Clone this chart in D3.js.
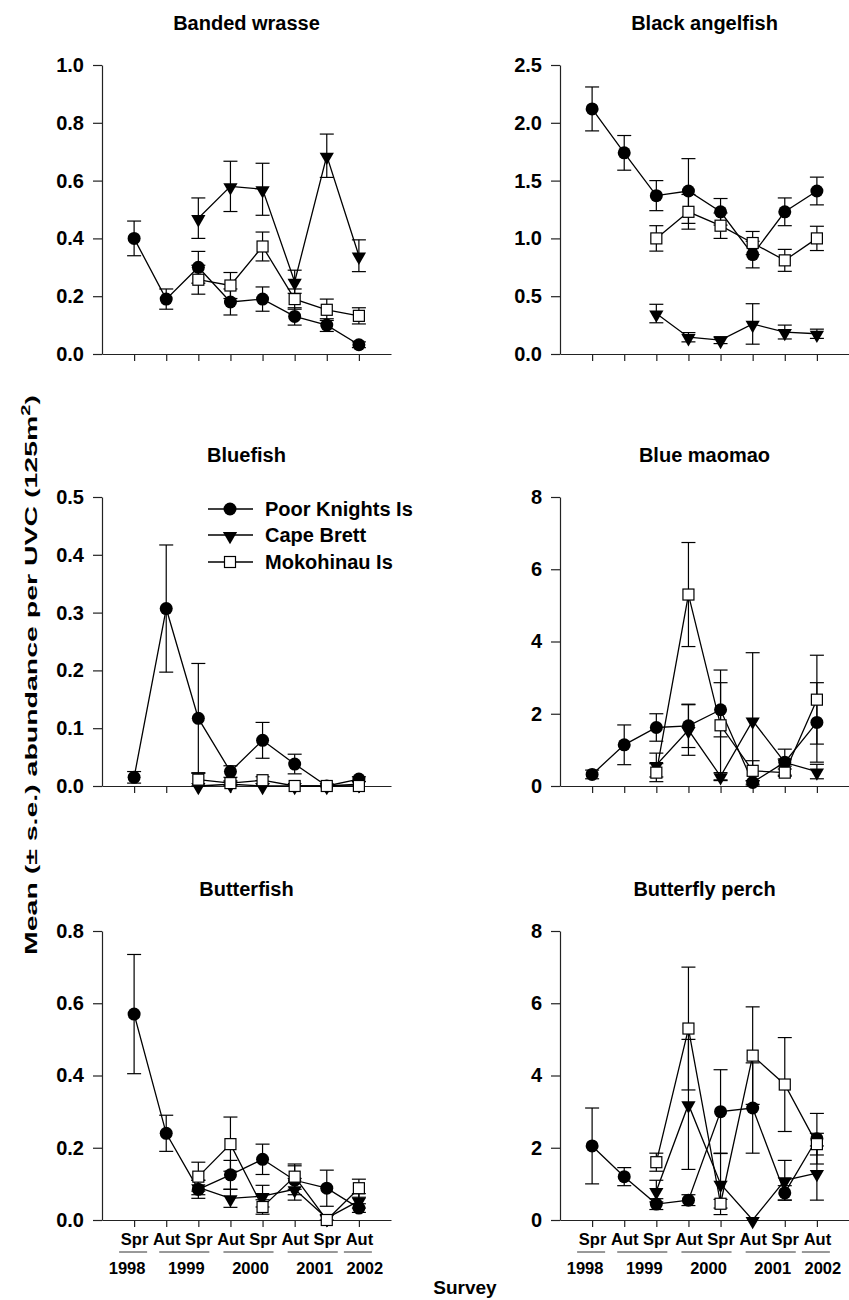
<!DOCTYPE html>
<html><head><meta charset="utf-8">
<script src="https://cdn.jsdelivr.net/npm/d3@7"></script>
<style>
body{margin:0;background:#fff;}
svg{display:block;font-family:"Liberation Sans",Arial,Helvetica,sans-serif;font-weight:bold;}
</style></head><body>
<svg id="chart" width="849" height="1300"></svg>
<script>
// ---- data ----
const surveys = ["Spr","Aut","Spr","Aut","Spr","Aut","Spr","Aut"];
const yearLabels = ["1998","1999","2000","2001","2002"];
const yearFirst = [0,1,3,5,7];
const yearLast  = [0,2,4,6,7];
const seriesNames = ["Poor Knights Is","Cape Brett","Mokohinau Is"];
const panelTitles = ["Banded wrasse","Black angelfish","Bluefish","Blue maomao","Butterfish","Butterfly perch"];
const yMaxes = [1.0, 2.5, 0.5, 8, 0.8, 8];
const yStep  = [0.2, 0.5, 0.1, 2, 0.2, 2];

const bandedPK   = [0.40,0.19,0.30,0.18,0.19,0.13,0.10,0.032];
const bandedPKse = [0.06,0.035,0.055,0.045,0.042,0.03,0.022,0.01];
const bandedCB   = [null,null,0.47,0.58,0.57,0.25,0.686,0.34];
const bandedCBse = [null,null,0.07,0.087,0.09,0.04,0.075,0.055];
const bandedMK   = [null,null,0.257,0.237,0.372,0.19,0.153,0.132];
const bandedMKse = [null,null,0.05,0.045,0.05,0.035,0.037,0.028];

const angelPK   = [2.12,1.74,1.37,1.41,1.23,0.86,1.23,1.41];
const angelPKse = [0.19,0.15,0.13,0.28,0.115,0.115,0.12,0.12];
const angelCB   = [null,null,0.35,0.145,0.12,0.26,0.19,0.175];
const angelCBse = [null,null,0.08,0.04,0.03,0.175,0.06,0.04];
const angelMK   = [null,null,1.0,1.23,1.11,0.96,0.81,1.0];
const angelMKse = [null,null,0.11,0.15,0.11,0.1,0.095,0.105];

const bluefishPK   = [0.015,0.307,0.117,0.025,0.079,0.038,0.0,0.012];
const bluefishPKse = [0.01,0.11,0.095,0.01,0.031,0.017,0,0.004];
const bluefishCB   = [null,null,0,0.003,0,0,0,0.003];
const bluefishCBse = [null,null,0,0,0,0,0,0];
const bluefishMK   = [null,null,0.011,0.005,0.01,0,0,0];
const bluefishMKse = [null,null,0.012,0.004,0.006,0,0,0];

const maomaoPK   = [0.32,1.14,1.62,1.665,2.11,0.1,0.66,1.76];
const maomaoPKse = [0.12,0.55,0.38,0.6,0.75,0.05,0.36,1.1];
const maomaoCB   = [null,null,0.58,1.55,0.27,1.81,0.65,0.4];
const maomaoCBse = [null,null,0.33,0.7,0.1,1.88,0.1,0.2];
const maomaoMK   = [null,null,0.37,5.3,1.68,0.42,0.37,2.39];
const maomaoMKse = [null,null,0.25,1.44,1.53,0.28,0.1,1.23];

const butterPK   = [0.57,0.24,0.085,0.125,0.168,0.11,0.088,0.033];
const butterPKse = [0.165,0.05,0.025,0.04,0.042,0.04,0.05,0.012];
const butterCB   = [null,null,0.09,0.06,0.066,0.085,0.005,0.053];
const butterCBse = [null,null,0.02,0.025,0.03,0.03,0.01,0.02];
const butterMK   = [null,null,0.12,0.21,0.036,0.12,0.0,0.088];
const butterMKse = [null,null,0.04,0.075,0.02,0.035,0,0.025];

const perchPK   = [2.05,1.2,0.44,0.55,3.0,3.1,0.75,2.25];
const perchPKse = [1.05,0.25,0.15,0.15,1.16,1.25,0.2,0.7];
const perchCB   = [null,null,0.8,3.2,1.0,0.0,1.1,1.3];
const perchCBse = [null,null,0.3,1.8,0.85,0,0.55,0.75];
const perchMK   = [null,null,1.6,5.3,0.45,4.55,3.75,2.1];
const perchMKse = [null,null,0.25,1.7,0.12,1.35,1.3,0.3];

// ---- assemble ----
const panelSeries = [
  [[bandedPK,bandedPKse],[bandedCB,bandedCBse],[bandedMK,bandedMKse]],
  [[angelPK,angelPKse],[angelCB,angelCBse],[angelMK,angelMKse]],
  [[bluefishPK,bluefishPKse],[bluefishCB,bluefishCBse],[bluefishMK,bluefishMKse]],
  [[maomaoPK,maomaoPKse],[maomaoCB,maomaoCBse],[maomaoMK,maomaoMKse]],
  [[butterPK,butterPKse],[butterCB,butterCBse],[butterMK,butterMKse]],
  [[perchPK,perchPKse],[perchCB,perchCBse],[perchMK,perchMKse]]
];

// ---- layout ----
const colX = [[102,391],[560,849]];
const rowTop = [65,497,931];
const plotH = 289;
const svg = d3.select("#chart");
const ink = "#000";
const fam = "'Liberation Sans',Arial,sans-serif";

const triPath = d3.symbol().type(d3.symbolTriangle).size(88)();
const capHalf = 7;

function drawMarker(g, k, x, y){
  if(k===0){
    g.append("circle").attr("cx",x).attr("cy",y).attr("r",6.5).attr("fill",ink);
  } else if(k===1){
    g.append("path").attr("d",triPath).attr("transform",`translate(${x},${y+1}) rotate(180)`).attr("fill",ink);
  } else {
    g.append("rect").attr("x",x-5.5).attr("y",y-5.5).attr("width",11).attr("height",11)
      .attr("fill","#fff").attr("stroke",ink).attr("stroke-width",1.2);
  }
}

panelTitles.forEach((title,p)=>{
  const col = p%2, row = Math.floor(p/2);
  const x = d3.scaleLinear().domain([-1,8]).range(colX[col]);
  const y = d3.scaleLinear().domain([0,yMaxes[p]]).range([rowTop[row]+plotH,rowTop[row]]);
  const g = svg.append("g");

  // title
  g.append("text").attr("x",(colX[col][0]+colX[col][1])/2).attr("y",rowTop[row]-35)
    .attr("text-anchor","middle").attr("font-size",20).text(title);

  // y axis
  const ticks = d3.range(0, yMaxes[p]+yStep[p]/2, yStep[p]);
  const fmt = yStep[p] >= 1 ? d3.format("d") : d3.format(".1f");
  const ya = g.append("g").attr("transform",`translate(${colX[col][0]},0)`)
    .call(d3.axisLeft(y).tickValues(ticks).tickFormat(fmt).tickSize(9).tickPadding(9).tickSizeOuter(0));
  ya.selectAll("text").attr("font-size",20).attr("font-weight","bold").attr("fill",ink).attr("font-family",fam);

  // x axis
  const xa = g.append("g").attr("transform",`translate(0,${rowTop[row]+plotH})`)
    .call(d3.axisBottom(x).tickValues(d3.range(surveys.length)).tickSize(7).tickSizeOuter(0)
      .tickFormat(row===2 ? (i=>surveys[i]) : ()=>""));
  xa.selectAll("text").attr("font-size",16.5).attr("font-weight","bold").attr("fill",ink)
    .attr("font-family",fam).attr("dy","0.9em");
  [ya,xa].forEach(a=>{
    a.selectAll("path,line").attr("stroke","#222").attr("stroke-width",1.2);
  });

  if(row===2){
    const base = rowTop[row]+plotH;
    yearLabels.forEach((yl,i)=>{
      const a = yearFirst[i], b = yearLast[i];
      const x0 = a===b ? x(a)-15 : x(a)-7;
      const x1 = a===b ? x(b)+13 : x(b)+11;
      g.append("line").attr("x1",x0).attr("x2",x1).attr("y1",base+32).attr("y2",base+32)
        .attr("stroke","#333").attr("stroke-width",1);
      g.append("text").attr("x",(x0+x1)/2 + (a===b ? (a===0?-6:7) : 2)).attr("y",base+54)
        .attr("text-anchor","middle").attr("font-size",16.5).text(yl);
    });
  }

  const series = panelSeries[p];
  const line = d3.line().defined(d=>d.v!==null).x(d=>x(d.i)).y(d=>y(d.v));
  series.forEach(([vals,ses],k)=>{
    const pts = vals.map((v,i)=>({i,v,se:ses[i]}));
    g.append("path").datum(pts).attr("d",line).attr("fill","none").attr("stroke",ink).attr("stroke-width",1.3);
  });
  series.forEach(([vals,ses],k)=>{
    vals.forEach((v,i)=>{
      if(v===null || !ses[i]) return;
      const hi = y(v+ses[i]), lo = y(Math.max(0,v-ses[i]));
      g.append("line").attr("x1",x(i)).attr("x2",x(i)).attr("y1",hi).attr("y2",lo).attr("stroke",ink).attr("stroke-width",1.2);
      g.append("line").attr("x1",x(i)-capHalf).attr("x2",x(i)+capHalf).attr("y1",hi).attr("y2",hi).attr("stroke",ink).attr("stroke-width",1.2);
      g.append("line").attr("x1",x(i)-capHalf).attr("x2",x(i)+capHalf).attr("y1",lo).attr("y2",lo).attr("stroke",ink).attr("stroke-width",1.2);
    });
  });
  series.forEach(([vals,ses],k)=>{
    vals.forEach((v,i)=>{ if(v!==null) drawMarker(g,k,x(i),y(v)); });
  });

  // legend in Bluefish panel
  if(p===2){
    const lg = g.append("g");
    const rows = [509,535,562];
    seriesNames.forEach((n,k)=>{
      lg.append("line").attr("x1",208).attr("x2",253).attr("y1",rows[k]).attr("y2",rows[k]).attr("stroke",ink).attr("stroke-width",1.3);
      drawMarker(lg,k,230,rows[k]);
      lg.append("text").attr("x",265).attr("y",rows[k]).attr("dy","0.36em").attr("font-size",20).text(n);
    });
  }
});

// axis titles
const yl = svg.append("text").attr("transform","translate(37,675) rotate(-90)").attr("text-anchor","middle")
  .attr("font-size",17).attr("textLength",560).attr("lengthAdjust","spacingAndGlyphs");
yl.append("tspan").text("Mean  (\u00b1 s.e.) abundance per UVC (125m");
yl.append("tspan").attr("baseline-shift","super").attr("font-size",12).text("2");
yl.append("tspan").text(")");
svg.append("text").attr("x",465).attr("y",1294).attr("text-anchor","middle").attr("font-size",19).text("Survey");
</script>
</body></html>
